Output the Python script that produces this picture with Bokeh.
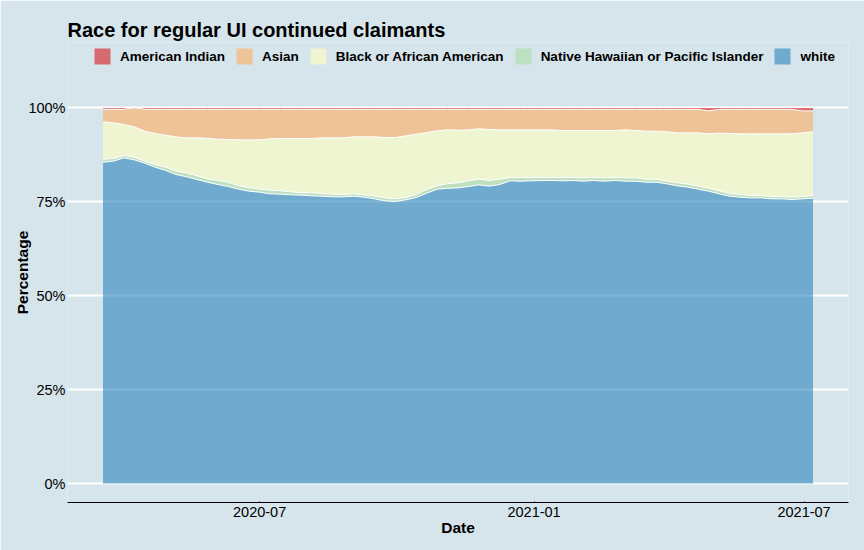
import sys
from datetime import datetime, timedelta
from bokeh.plotting import figure
from bokeh.models import (ColumnDataSource, Range1d, FixedTicker, DatetimeTickFormatter,
                          PrintfTickFormatter, Legend, LegendItem)
from bokeh.transform import stack
from bokeh.embed import file_html
from bokeh.resources import INLINE

# ---------------- data ----------------
series_names = ["American Indian", "Asian", "Black or African American",
                "Native Hawaiian or Pacific Islander", "white"]
start_date = datetime(2020, 3, 18)
n_weeks = 69

white = [85.46, 85.73, 86.61, 86.08, 85.19, 84.13, 83.25, 82.18, 81.56, 80.85,
         80.14, 79.52, 78.99, 78.28, 77.75, 77.48, 77.04, 76.95, 76.77, 76.69,
         76.51, 76.42, 76.24, 76.24, 76.42, 76.15, 75.71, 75.18, 75.00, 75.44,
         76.06, 77.22, 78.28, 78.50, 78.63, 78.99, 79.43, 79.08, 79.52, 80.50,
         80.41, 80.50, 80.59, 80.59, 80.50, 80.59, 80.41, 80.59, 80.41, 80.59,
         80.41, 80.41, 80.14, 80.14, 79.70, 79.17, 78.82, 78.28, 77.75, 77.04,
         76.42, 76.15, 75.97, 75.97, 75.71, 75.71, 75.53, 75.71, 75.89]
pacific = [0.80, 0.71, 0.62, 0.71, 0.55, 0.71, 0.88, 0.89, 1.00, 1.00,
           0.85, 1.10, 1.10, 0.90, 0.89, 0.80, 1.00, 0.89, 0.80, 0.62,
           0.80, 0.71, 0.71, 0.62, 0.62, 0.62, 0.71, 0.80, 0.71, 0.62,
           0.80, 0.97, 0.89, 1.25, 1.34, 1.51, 1.51, 1.51, 1.42, 0.88,
           0.97, 0.85, 0.79, 0.79, 0.88, 0.79, 0.88, 0.79, 0.88, 0.79,
           0.88, 0.88, 0.80, 0.80, 0.71, 0.80, 0.79, 0.80, 0.80, 0.80,
           0.71, 0.71, 0.63, 0.63, 0.62, 0.62, 0.62, 0.62, 0.71]
black = [9.93, 9.48, 8.25, 8.07, 7.96, 8.25, 8.51, 9.13, 9.37, 10.08,
         10.85, 10.96, 11.40, 12.22, 12.76, 13.12, 13.63, 13.92, 14.19, 14.45,
         14.45, 14.80, 14.98, 15.07, 15.16, 15.43, 15.78, 16.04, 16.31, 16.40,
         16.05, 15.16, 14.63, 14.31, 14.00, 13.56, 13.39, 13.56, 13.12, 12.68,
         12.68, 12.71, 12.68, 12.68, 12.50, 12.50, 12.59, 12.50, 12.59, 12.50,
         12.77, 12.59, 12.76, 12.76, 13.12, 13.29, 13.65, 14.18, 14.45, 15.33,
         15.96, 16.14, 16.40, 16.40, 16.67, 16.67, 16.85, 16.93, 16.93]
asian = [3.31, 3.58, 4.02, 5.14, 5.80, 6.41, 6.86, 7.30, 7.57, 7.57,
         7.66, 7.92, 8.01, 8.10, 8.10, 8.10, 7.83, 7.74, 7.74, 7.74,
         7.74, 7.57, 7.57, 7.57, 7.30, 7.30, 7.30, 7.48, 7.48, 7.04,
         6.59, 6.15, 5.70, 5.44, 5.53, 5.44, 5.17, 5.35, 5.44, 5.44,
         5.44, 5.44, 5.44, 5.44, 5.62, 5.62, 5.62, 5.62, 5.62, 5.62,
         5.44, 5.62, 5.80, 5.80, 5.97, 6.24, 6.24, 6.24, 6.10, 6.33,
         6.41, 6.50, 6.50, 6.50, 6.50, 6.50, 6.50, 5.84, 5.57]
american_indian = [0.5, 0.5, 0.5, 0.0, 0.5, 0.5, 0.5, 0.5, 0.5, 0.5,
                   0.5, 0.5, 0.5, 0.5, 0.5, 0.5, 0.5, 0.5, 0.5, 0.5,
                   0.5, 0.5, 0.5, 0.5, 0.5, 0.5, 0.5, 0.5, 0.5, 0.5,
                   0.5, 0.5, 0.5, 0.5, 0.5, 0.5, 0.5, 0.5, 0.5, 0.5,
                   0.5, 0.5, 0.5, 0.5, 0.5, 0.5, 0.5, 0.5, 0.5, 0.5,
                   0.5, 0.5, 0.5, 0.5, 0.5, 0.5, 0.5, 0.5, 0.9, 0.5,
                   0.5, 0.5, 0.5, 0.5, 0.5, 0.5, 0.5, 0.9, 0.9]

x_tick_dates = [datetime(2020, 7, 1), datetime(2021, 1, 1), datetime(2021, 7, 1)]
y_ticks = [0, 25, 50, 75, 100]

# ---------------- styling ----------------
BG = "#D6E4EB"
FONT = "Liberation Sans"
colors = {"american_indian": "#D7191C", "asian": "#FDAE61", "black": "#FFFFBF",
          "pacific": "#ABDDA4", "white": "#2B83BA"}

n = min(n_weeks, len(white), len(pacific), len(black), len(asian), len(american_indian))
dates = [start_date + timedelta(days=7 * k) for k in range(n)]
src = ColumnDataSource(dict(date=dates, white=white[:n], pacific=pacific[:n], black=black[:n],
                            asian=asian[:n], american_indian=american_indian[:n]))

pad = timedelta(days=(dates[-1] - dates[0]).days * 0.05)
# frame extends above 100% so that the legend row sits inside it (blank area, same colour)
p = figure(width=864, height=550, x_axis_type="datetime",
           x_range=Range1d(start=dates[0] - pad, end=dates[-1] + pad),
           y_range=Range1d(start=-5.053, end=117.29),
           output_backend="svg", toolbar_location=None,
           title="Race for regular UI continued claimants")
p.min_border_left = 67
p.min_border_right = 16
p.min_border_top = 42
p.min_border_bottom = 48

p.background_fill_color = BG
p.border_fill_color = BG
p.outline_line_color = None

stack_order = ["white", "pacific", "black", "asian", "american_indian"]
areas = p.varea_stack(stackers=stack_order, x="date", source=src,
                      color=[colors[s] for s in stack_order], fill_alpha=0.6)

# white outlines along each stacked boundary
for i in range(1, len(stack_order) + 1):
    try:
        p.line(x="date", y=stack(*stack_order[:i]), source=src,
               line_color="white", line_width=1.0)
    except Exception as e:
        print("line", e, file=sys.stderr)

# legend
area_by_key = dict(zip(stack_order, areas))
items = [LegendItem(label=name, renderers=[area_by_key[key]])
         for name, key in zip(series_names,
                              ["american_indian", "asian", "black", "pacific", "white"])]
legend = Legend(items=items, orientation="horizontal", location=(25, 436))
for attr, val in [("glyph_width", 20), ("glyph_height", 20), ("label_height", 20),
                  ("label_standoff", 8), ("spacing", 9), ("padding", 0), ("margin", 0),
                  ("label_text_font", FONT), ("label_text_font_size", "13.5px"),
                  ("label_text_font_style", "bold"), ("label_text_color", "black"),
                  ("background_fill_alpha", 0), ("border_line_alpha", 0)]:
    try:
        setattr(legend, attr, val)
    except Exception as e:
        print("legend", attr, e, file=sys.stderr)
p.add_layout(legend, "center")

# title
p.title.text_font = FONT
p.title.text_font_size = "20px"
p.title.text_font_style = "bold"
p.title.text_color = "black"
try:
    p.title.standoff = 3
except Exception as e:
    print("title", e, file=sys.stderr)

# grid
p.xgrid.grid_line_color = None
p.ygrid.grid_line_color = "white"
p.ygrid.grid_line_width = 2

# axes
p.yaxis.ticker = FixedTicker(ticks=y_ticks)
p.yaxis.formatter = PrintfTickFormatter(format="%d%%")
p.yaxis.axis_line_color = None
p.yaxis.major_tick_line_color = None
p.yaxis.minor_tick_line_color = None
p.yaxis.major_tick_in = 0
p.yaxis.major_tick_out = 0
p.yaxis.minor_tick_in = 0
p.yaxis.minor_tick_out = 0
p.yaxis.major_label_standoff = 2
p.yaxis.axis_label = "Percentage"
p.yaxis.axis_label_standoff = -6

tick_ms = [(d - datetime(1970, 1, 1)).total_seconds() * 1000 for d in x_tick_dates]
p.xaxis.ticker = FixedTicker(ticks=tick_ms)
fmt = "%Y-%m"
p.xaxis.formatter = DatetimeTickFormatter(days=fmt, months=fmt, years=fmt)
p.xaxis.axis_line_color = "black"
p.xaxis.axis_line_width = 1
p.xaxis.major_tick_in = 1
p.xaxis.major_tick_out = 0
p.xaxis.minor_tick_in = 0
p.xaxis.minor_tick_out = 0
p.xaxis.major_tick_line_color = "black"
p.xaxis.minor_tick_line_color = None
p.xaxis.major_label_standoff = 4
p.xaxis.axis_label = "Date"
p.xaxis.axis_label_standoff = -1

for ax in (p.xaxis, p.yaxis):
    ax.major_label_text_font = FONT
    ax.major_label_text_font_size = "14.5px"
    ax.major_label_text_color = "black"
    ax.axis_label_text_font = FONT
    ax.axis_label_text_font_size = "15.5px"
    ax.axis_label_text_font_style = "bold"
    ax.axis_label_text_color = "black"

with open("out.html", "w") as f:
    f.write(file_html(p, INLINE))
